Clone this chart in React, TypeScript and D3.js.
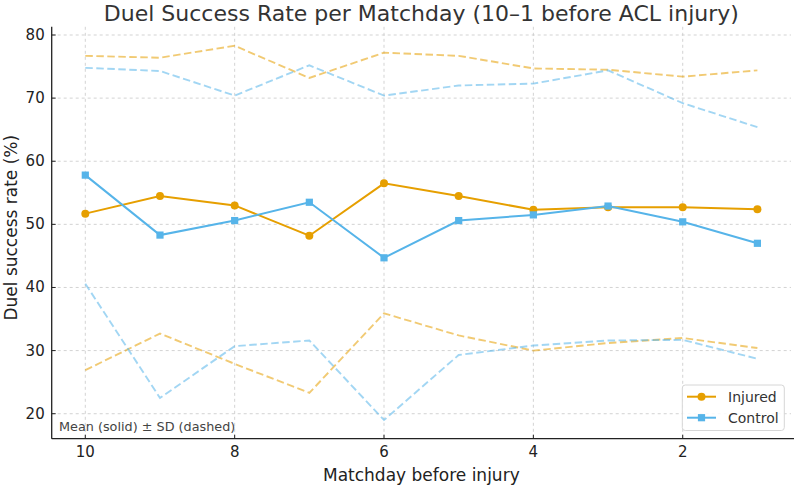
import React from "react";
import * as d3 from "d3";

// Matchdays before injury (10 → 1)
const matchdays = [10, 9, 8, 7, 6, 5, 4, 3, 2, 1];

// Injured group
const injuredMean = [51.7, 54.5, 53.0, 48.2, 56.5, 54.5, 52.3, 52.7, 52.7, 52.4];
const injuredUpper = [76.7, 76.4, 78.3, 73.2, 77.2, 76.7, 74.7, 74.5, 73.4, 74.4];
const injuredLower = [26.9, 32.7, 27.9, 23.3, 35.9, 32.4, 30.0, 31.2, 32.0, 30.4];

// Control group
const controlMean = [57.8, 48.3, 50.6, 53.5, 44.7, 50.6, 51.5, 52.9, 50.4, 47.0];
const controlUpper = [74.8, 74.3, 70.4, 75.2, 70.4, 72.0, 72.3, 74.4, 69.2, 65.4];
const controlLower = [40.6, 22.5, 30.7, 31.6, 19.0, 29.3, 30.8, 31.6, 31.7, 28.7];

const xTicks = [10, 8, 6, 4, 2];
const yTicks = [20, 30, 40, 50, 60, 70, 80];

const INJ = "#E69F00";
const CTL = "#56B4E9";
const FONT = "DejaVu Sans, sans-serif";

export default function App() {
  const W = 794;
  const H = 485;
  const left = 51.7;
  const right = 791;
  const top = 26.8;
  const bottom = 438.7;

  const x = d3.scaleLinear().domain([10.45, 0.55]).range([left, right]);
  const y = d3.scaleLinear().domain([16.04, 81.3]).range([bottom, top]);

  const line = (vals: number[]) =>
    d3
      .line<number>()
      .x((_, i) => x(matchdays[i]))
      .y((v) => y(v))(vals) as string;

  const dashed = (vals: number[], color: string, key: string) => (
    <path
      key={key}
      d={line(vals)}
      fill="none"
      stroke={color}
      strokeOpacity={0.55}
      strokeWidth={1.9}
      strokeDasharray="7.5,3.5"
    />
  );

  return (
    <svg
      width={W}
      height={H}
      style={{ position: "absolute", left: 0, top: 0 }}
      fontFamily={FONT}
    >
      <rect width={W} height={H} fill="#fff" />

      {/* grid */}
      {xTicks.map((t) => (
        <line
          key={"gx" + t}
          x1={x(t)}
          x2={x(t)}
          y1={top}
          y2={bottom}
          stroke="#c8c8c8"
          strokeWidth={0.8}
          strokeDasharray="3,3"
        />
      ))}
      {yTicks.map((t) => (
        <line
          key={"gy" + t}
          x1={left}
          x2={right}
          y1={y(t)}
          y2={y(t)}
          stroke="#c8c8c8"
          strokeWidth={0.8}
          strokeDasharray="3,3"
        />
      ))}

      {/* ± SD as dashed lines */}
      {dashed(injuredUpper, INJ, "iu")}
      {dashed(injuredLower, INJ, "il")}
      {dashed(controlUpper, CTL, "cu")}
      {dashed(controlLower, CTL, "cl")}

      {/* means */}
      <path d={line(injuredMean)} fill="none" stroke={INJ} strokeWidth={2} />
      {injuredMean.map((v, i) => (
        <circle key={"ic" + i} cx={x(matchdays[i])} cy={y(v)} r={4} fill={INJ} />
      ))}
      <path d={line(controlMean)} fill="none" stroke={CTL} strokeWidth={2} />
      {controlMean.map((v, i) => (
        <rect
          key={"cs" + i}
          x={x(matchdays[i]) - 3.6}
          y={y(v) - 3.6}
          width={7.2}
          height={7.2}
          fill={CTL}
        />
      ))}

      {/* axes */}
      <line x1={left} x2={left} y1={top} y2={bottom} stroke="#222" strokeWidth={1.3} />
      <line x1={left} x2={right + 3} y1={bottom} y2={bottom} stroke="#222" strokeWidth={1.3} />
      {yTicks.map((t) => (
        <g key={"yt" + t}>
          <line x1={left} x2={left + 4} y1={y(t)} y2={y(t)} stroke="#222" strokeWidth={1} />
          <text
            x={left - 7}
            y={y(t)}
            textAnchor="end"
            dominantBaseline="central"
            fontSize={15}
            fill="#222"
          >
            {t}
          </text>
        </g>
      ))}
      {xTicks.map((t) => (
        <g key={"xt" + t}>
          <line x1={x(t)} x2={x(t)} y1={bottom} y2={bottom - 4} stroke="#222" strokeWidth={1} />
          <text x={x(t)} y={bottom + 18} textAnchor="middle" fontSize={15} fill="#222">
            {t}
          </text>
        </g>
      ))}

      {/* labels */}
      <text
        x={(left + right) / 2}
        y={20.5}
        textAnchor="middle"
        fontSize={22}
        fill="#333"
      >
        Duel Success Rate per Matchday (10–1 before ACL injury)
      </text>
      <text
        x={(left + right) / 2}
        y={480.5}
        textAnchor="middle"
        fontSize={17}
        fill="#222"
      >
        Matchday before injury
      </text>
      <text
        transform={`translate(17,227.7) rotate(-90)`}
        textAnchor="middle"
        fontSize={17}
        fill="#222"
      >
        Duel success rate (%)
      </text>

      <text x={59} y={431} fontSize={12.8} fill="#444">
        Mean (solid) ± SD (dashed)
      </text>

      {/* legend */}
      <g>
        <rect
          x={682.3}
          y={385}
          width={102}
          height={45.5}
          rx={3}
          fill="#fff"
          fillOpacity={0.85}
          stroke="#d6d6d6"
          strokeWidth={1}
        />
        <line x1={687} x2={716} y1={396.7} y2={396.7} stroke={INJ} strokeWidth={2} />
        <circle cx={701.5} cy={396.7} r={4} fill={INJ} />
        <text x={728} y={396.7} dominantBaseline="central" fontSize={14} fill="#333">
          Injured
        </text>
        <line x1={687} x2={716} y1={417.7} y2={417.7} stroke={CTL} strokeWidth={2} />
        <rect x={701.5 - 3.6} y={417.7 - 3.6} width={7.2} height={7.2} fill={CTL} />
        <text x={728} y={417.7} dominantBaseline="central" fontSize={14} fill="#333">
          Control
        </text>
      </g>
    </svg>
  );
}
